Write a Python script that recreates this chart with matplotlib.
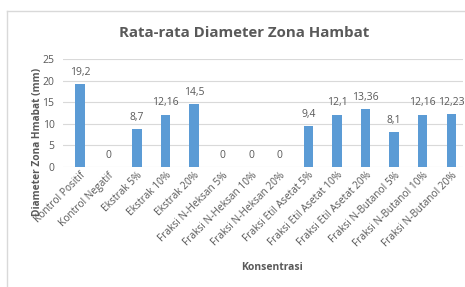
import matplotlib
matplotlib.use("Agg")
import matplotlib.pyplot as plt
from matplotlib.lines import Line2D

categories = ["Kontrol Positif", "Kontrol Negatif", "Ekstrak 5%", "Ekstrak 10%", "Ekstrak 20%",
              "Fraksi N-Heksan 5%", "Fraksi N-Heksan 10%", "Fraksi N-Heksan 20%",
              "Fraksi Etil Asetat 5%", "Fraksi Etil Asetat 10%", "Fraksi Etil Asetat 20%",
              "Fraksi N-Butanol 5%", "Fraksi N-Butanol 10%", "Fraksi N-Butanol 20%"]
values = [19.2, 0, 8.7, 12.16, 14.5, 0, 0, 0, 9.4, 12.1, 13.36, 8.1, 12.16, 12.23]
labels = ["19,2", "0", "8,7", "12,16", "14,5", "0", "0", "0", "9,4", "12,1", "13,36", "8,1", "12,16", "12,23"]
yticks = [0, 5, 10, 15, 20, 25]

plt.rcParams['font.family'] = ['Open Sans', 'DejaVu Sans']
gray = "#595959"

fig = plt.figure(figsize=(4.65, 2.87), dpi=100)
ax = fig.add_axes([0.135, 0.418, 0.86, 0.376])
x = list(range(len(categories)))
ax.bar(x, values, width=0.33, color="#5B9BD5", zorder=3)
for xi, v, lab in zip(x, values, labels):
    ax.text(xi, v + 1.5, lab, ha="center", va="bottom", fontsize=7.5, color=gray)
ax.set_ylim(0, 25)
ax.set_xlim(-0.6, len(categories) - 0.6)
ax.set_yticks(yticks)
ax.set_yticklabels([str(t) for t in yticks], fontsize=7.5, color=gray)
ax.set_xticks(x)
ax.set_xticklabels(categories, rotation=45, ha="right", rotation_mode="anchor", fontsize=7.3, color=gray)
ax.tick_params(axis="x", length=0, pad=2)
ax.tick_params(axis="y", length=0, pad=6)
ax.grid(axis="y", color="#D9D9D9", linewidth=0.8, zorder=0)
for s in ax.spines.values():
    s.set_visible(False)
ax.set_ylabel("Diameter Zona Hmabat (mm)", fontsize=7.3, fontweight="bold", color=gray)
ax.yaxis.set_label_coords(-0.05, 0.23)
fig.text(0.585, 0.068, "Konsentrasi", ha="center", va="center",
         fontsize=7.5, fontweight="bold", color=gray)
fig.text(0.525, 0.885, "Rata-rata Diameter Zona Hambat", ha="center", va="center",
         fontsize=10.8, fontweight="bold", color=gray)
fig.add_artist(Line2D([0.015, 0.015], [0.0, 0.962], transform=fig.transFigure, color="#D9D9D9", linewidth=1))
fig.add_artist(Line2D([0.015, 1.0], [0.962, 0.962], transform=fig.transFigure, color="#D9D9D9", linewidth=1))
fig.savefig("out.png", dpi=100)
